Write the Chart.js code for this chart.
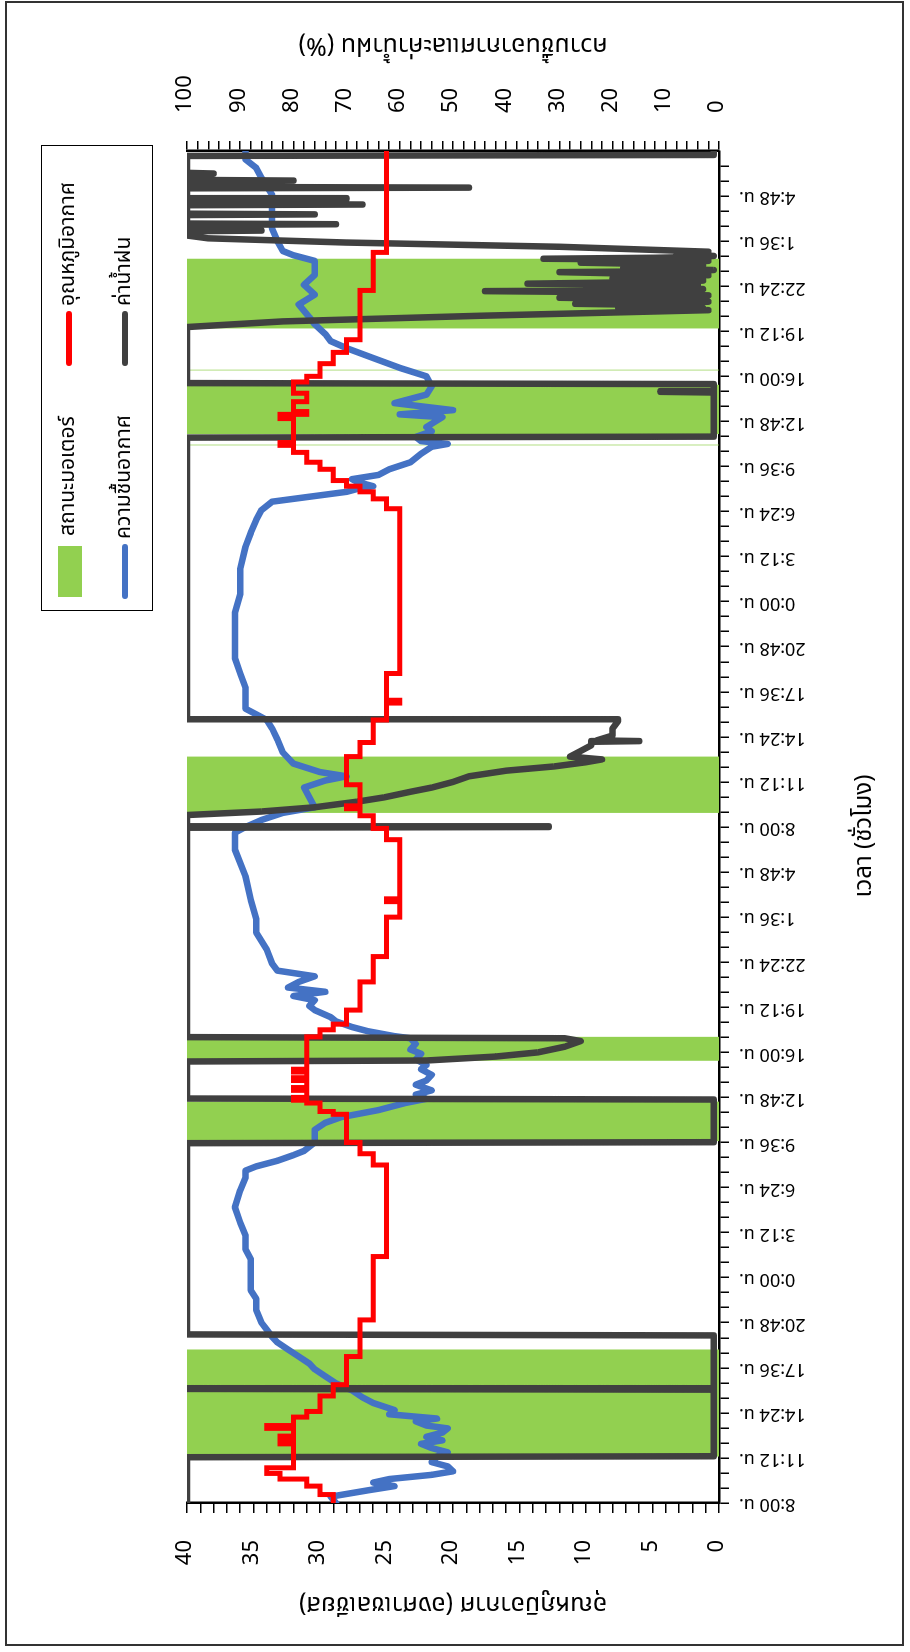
<!DOCTYPE html>
<html>
<head>
<meta charset="utf-8">
<script src="https://cdn.jsdelivr.net/npm/chart.js@4.4.1/dist/chart.umd.min.js"></script>
<style>
  html, body { margin:0; padding:0; width:910px; height:1652px; overflow:hidden; background:#fff; }
  #frame { position:absolute; left:5px; top:1px; width:899px; height:1645px; border:2px solid #333; box-sizing:border-box; }
  #wrap { position:absolute; left:0; top:0; width:1652px; height:910px; transform-origin:0 0; transform:translate(0,1652px) rotate(-90deg); }
  #c { position:absolute; left:0; top:0; }
  #legend { position:absolute; left:1041px; top:41px; width:466px; height:112px; border:1.5px solid #000; box-sizing:border-box; background:#fff;
            font-family:"Noto Sans Thai","Loma","Garuda","Waree","Noto Sans","DejaVu Sans",sans-serif; font-size:21px; color:#000; }
  #legend .sw { position:absolute; }
  #legend .tx { position:absolute; white-space:nowrap; line-height:28px; height:28px; }
</style>
</head>
<body>
<div id="frame"></div>
<div id="wrap">
  <canvas id="c" width="1652" height="910"></canvas>
  <div id="legend"></div>
</div>
<script>
// ---------- DATA ----------
const timeLabels = ["8:00 น.","11:12 น.","14:24 น.","17:36 น.","20:48 น.","0:00 น.","3:12 น.","6:24 น.","9:36 น.","12:48 น.","16:00 น.","19:12 น.","22:24 น.","1:36 น.","4:48 น.",
                    "8:00 น.","11:12 น.","14:24 น.","17:36 น.","20:48 น.","0:00 น.","3:12 น.","6:24 น.","9:36 น.","12:48 น.","16:00 น.","19:12 น.","22:24 น.","1:36 น.","4:48 น."];
const tempTickLabels = [0,5,10,15,20,25,30,35,40];
const humTickLabels = [0,10,20,30,40,50,60,70,80,90,100];

const seriesNames = ["สถานะมอเตอร์","อุณหภูมิอากาศ","ความชื้นอากาศ","ค่าน้ำฝน"];
const axisTitles = { temp:"อุณหภูมิอากาศ (องศาเซลเซียส)", hum:"ความชื้นอากาศและค่าน้ำฝน (%)", time:"เวลา (ชั่วโมง)" };

// [hours since first 8:00, temperature °C] (held until next point)
const temperature = [[0,29],[0.6,30],[1.2,31],[1.7,33],[2.1,34],[2.5,32],[4.2,33],[4.35,32],[4.6,33],[4.75,32],[5.3,34],[5.5,32],
  [6.1,31],[6.5,30],[7.6,29],[8.4,28],[10.4,27],[13.0,26],[17.5,25],[24.0,26],[24.8,27],[25.6,28],[27.6,29],[27.8,30],[28.4,31],
  [28.6,32],[28.8,31],[29.3,32],[29.5,31],[30.0,32],[30.2,31],[30.6,32],[30.8,31],[33.1,30],[33.6,29],[34.0,28],[35.0,27],[37.0,26],
  [38.8,25],[41.6,24],[42.7,25],[42.9,24],[47.1,25],[47.9,26],[48.8,27],[49.3,28],[49.5,27],[51.0,28],[53.0,27],[54.0,26],[55.6,25],
  [56.8,24],[57.0,25],[58.9,24],[70.6,25],[71.3,26],[71.8,27],[72.2,28],[72.6,29],[73.4,30],[73.9,31],[74.6,32],[75.1,33],[75.3,32],
  [77.0,33],[77.3,31],[77.5,32],[78.2,31],[78.8,32],[79.6,31],[80.0,30],[80.9,29],[81.7,28],[82.6,27],[86.1,26],[88.8,25],[96,25]];

// [hours, relative humidity %]
const humidity = [[0,72],[0.45,73],[0.9,66],[1.2,61],[1.45,65],[1.7,62],[2.0,54],[2.25,50],[2.6,51],[2.9,54],[3.3,53],[3.6,51],[3.9,54],
  [4.2,56],[4.45,52],[4.7,55],[5.0,52],[5.3,51],[5.5,55],[5.8,57],[6.0,53],[6.1,56],[6.3,62],[6.6,61],[7.1,65],[7.5,67],[8.0,69],
  [8.5,72],[9.0,74],[9.5,76],[9.9,77],[10.4,79],[10.9,81],[11.4,83],[11.8,84],[12.3,85],[12.8,86],[13.7,87],[14.5,87],[15.1,88],
  [16.5,88],[17.3,88],[18.0,89],[19.0,89],[19.9,90],[21.0,91],[22.2,90],[23.1,89],[23.6,89],[23.9,87],[24.3,83],[24.7,80],[25.0,78],
  [25.6,76],[26.5,76],[27.0,74],[27.4,71],[27.9,64],[28.4,59],[28.7,55],[29.0,57],[29.3,54],[29.7,57],[30.0,55],[30.4,54],[30.8,56],
  [31.1,55],[31.5,57],[31.9,56],[32.2,58],[32.6,57],[33.0,58],[33.15,61],[33.5,66],[33.8,69],[34.2,72],[34.5,73],[35.0,76],[35.3,77],
  [35.7,76],[36.0,80],[36.3,74],[36.6,81],[37.0,79],[37.4,76],[37.8,83],[38.3,84],[39.3,85],[40.5,87],[41.5,87],[42.8,88],[44.5,89],
  [46.4,91],[47.6,91],[48.0,89],[48.5,86],[49.0,82],[49.4,76],[50.1,77],[50.8,78],[51.3,74],[51.6,70],[51.9,75],[52.5,80],[53.3,82],
  [54.2,83],[55.0,84],[55.6,85],[56.0,87],[56.4,89],[57.9,89],[58.9,90],[60.0,91],[61.5,91],[63.2,91],[64.5,90],[66.3,90],[67.9,89],
  [68.9,88],[69.8,87],[70.5,86],[71.1,84],[71.4,78],[71.8,70],[72.0,68],[72.2,65],[72.5,68],[72.7,69],[73.0,64],[73.4,62],[73.9,58],
  [74.5,56],[75.0,54],[75.2,51],[75.4,56],[75.7,57],[76.1,54],[76.4,55],[77.1,52],[77.3,60],[77.6,50],[78.1,61],[78.7,55],[79.3,54],
  [80.0,55],[80.6,60],[81.3,65],[82.0,70],[82.5,73],[83.0,74],[83.7,76],[84.2,77],[85.1,79],[85.8,76],[86.5,78],[87.2,76],[88.2,76],
  [88.6,80],[88.9,82],[89.6,83],[90.5,84],[91.5,84],[92.9,84],[94.1,86],[94.8,87],[95.4,89],[96,89]];

// [hours, rain sensor value %]
const rain = [[0,100],[3.25,100],[3.32,1],[8.05,1],[8.1,100],[8.15,1],[11.9,1],[11.97,100],[25.55,100],[25.62,1],[28.65,1],[28.72,100],
  [31.35,100],[31.42,55],[31.7,42],[32.0,34],[32.4,29],[32.8,26],[33.0,29],[33.08,100],[47.95,100],[48.0,32],[48.05,100],[48.85,100],
  [49.1,86],[49.4,76],[49.8,68],[50.1,63],[50.5,58],[50.8,54],[51.2,50],[51.6,47],[52.0,40],[52.3,31],[52.6,25],[52.8,22],[53.0,28],
  [53.4,26],[53.8,24],[54.05,24],[54.1,15],[54.15,23],[54.5,20],[55.0,20],[55.5,19],[55.6,19],[55.65,100],[75.65,100],[75.72,1],
  [78.85,1],[78.9,11],[78.95,1],[79.45,1],[79.52,100],[83.5,100],[83.9,82],[84.3,45],[84.7,2],
  [84.78,8],[84.85,3],[84.92,19],[85.0,5],[85.08,14],[85.15,27],[85.22,6],[85.3,2],[85.38,12],[85.45,4],[85.52,20],[85.58,30],
  [85.65,10],[85.75,2],[85.82,15],[85.9,6],[85.98,22],[86.05,44],[86.12,8],[86.2,3],[86.28,18],[86.35,25],[86.42,9],[86.5,4],
  [86.58,36],[86.65,22],[86.72,7],[86.8,3],[86.88,11],[86.95,20],[87.02,5],[87.1,14],[87.18,2],[87.25,9],[87.32,20],[87.4,30],
  [87.47,6],[87.55,1],[87.62,12],[87.7,18],[87.78,4],[87.85,10],[87.92,3],[88.0,16],[88.07,26],[88.14,6],[88.2,2],[88.28,9],
  [88.35,33],[88.42,12],[88.48,4],[88.55,1],[88.62,7],[88.7,4],[88.78,8],[88.85,2],[89.2,30],
  [89.5,70],[89.8,96],[90.0,100],[90.3,100],[90.35,86],[90.4,100],[90.75,100],[90.8,72],[90.85,100],[91.45,100],[91.5,76],[91.55,100],
  [92.15,100],[92.2,67],[92.25,100],[92.55,100],[92.6,70],[92.65,100],[93.35,100],[93.4,47],[93.45,100],[93.85,100],[93.9,80],
  [93.95,100],[94.35,100],[94.4,95],[94.45,100],[95.65,100],[95.72,1],[96,1]];

// [hours, motor status (100 = on, 0 = off)] (held until next point)
const motor = [[0,0],[3.3,100],[10.9,0],[25.7,100],[28.5,0],[31.4,100],[33.1,0],[49.0,100],[53.0,0],[75.1,100],[75.15,0],
  [75.9,100],[79.4,0],[80.42,100],[80.47,0],[83.4,100],[88.35,0],[96,0]];

// ---------- STYLE ----------
const FONT = '"Noto Sans Thai","Loma","Garuda","Waree","Liberation Sans","Noto Sans","DejaVu Sans",sans-serif';
const colors = { motor:'#92D050', temp:'#FF0000', hum:'#4472C4', rain:'#404040' };
const HOURS_PER_LABEL = 3.2, MINOR_PER_LABEL = 3, SPAN = 96;

const toXY = arr => arr.map(p => ({x:p[0], y:p[1]}));

const titlePlugin = {
  id:'axisTitles',
  afterDraw(chart){
    const {ctx, chartArea:a} = chart;
    ctx.save();
    ctx.fillStyle = '#000';
    ctx.font = '25px ' + FONT;
    ctx.textAlign = 'center'; ctx.textBaseline = 'middle';
    const cy = (a.top + a.bottom)/2;
    ctx.save(); ctx.translate(50, cy); ctx.rotate(-Math.PI/2); ctx.fillText(axisTitles.temp, 0, 0); ctx.restore();
    ctx.save(); ctx.translate(1609, cy); ctx.rotate(-Math.PI/2); ctx.fillText(axisTitles.hum, 0, 0); ctx.restore();
    ctx.font = '24px ' + FONT;
    ctx.fillText(axisTitles.time, (a.left + a.right)/2 - 9, 866);
    ctx.restore();
  }
};

const gridOpts = { display:true, drawOnChartArea:false, drawTicks:true, tickLength:10, color:'#000', lineWidth:1.5 };
const borderOpts = { display:true, color:'#000', width:2.5 };

new Chart(document.getElementById('c'), {
  type:'line',
  data:{
    datasets:[
      { label:seriesNames[1], data:toXY(temperature), yAxisID:'y', borderColor:colors.temp, borderWidth:5, stepped:true,
        pointRadius:0, fill:false, order:0, borderJoinStyle:'miter' },
      { label:seriesNames[3], data:toXY(rain), yAxisID:'y2', borderColor:colors.rain, borderWidth:6.5,
        pointRadius:0, fill:false, order:1, borderJoinStyle:'round', borderCapStyle:'round' },
      { label:seriesNames[2], data:toXY(humidity), yAxisID:'y2', borderColor:colors.hum, borderWidth:6.5,
        pointRadius:0, fill:false, order:2, borderJoinStyle:'round', borderCapStyle:'round' },
      { label:seriesNames[0], data:toXY(motor), yAxisID:'y2', borderColor:colors.motor, backgroundColor:colors.motor, borderWidth:0,
        stepped:true, pointRadius:0, fill:'origin', order:3 }
    ]
  },
  options:{
    responsive:false, animation:false, devicePixelRatio:1,
    layout:{ padding:{ top:187, left:0, right:0, bottom:0 } },
    plugins:{ legend:{display:false}, tooltip:{enabled:false} },
    scales:{
      x:{ type:'linear', position:'bottom', min:0, max:SPAN,
          grid:gridOpts, border:borderOpts,
          afterBuildTicks(s){ const n = SPAN/HOURS_PER_LABEL*MINOR_PER_LABEL; const t=[]; for(let i=0;i<n;i++) t.push({value:i*SPAN/n}); s.ticks=t; },
          afterFit(s){ s.height = 910 - 719; },
          ticks:{ autoSkip:false, minRotation:90, maxRotation:90, padding:10, color:'#000', font:{size:18, family:FONT},
                  callback:(v,i)=> i % MINOR_PER_LABEL === 0 ? timeLabels[i/MINOR_PER_LABEL] : '' } },
      y:{ type:'linear', position:'left', min:0, max:40,
          grid:gridOpts, border:borderOpts,
          afterBuildTicks(s){ const t=[]; for(let v=0; v<=40; v++) t.push({value:v}); s.ticks=t; },
          afterFit(s){ s.width = 149; },
          ticks:{ autoSkip:false, padding:27, color:'#000', font:{size:22, family:FONT},
                  callback:v=> tempTickLabels.includes(v) ? String(v) : '' } },
      y2:{ type:'linear', position:'right', min:0, max:100,
          grid:gridOpts, border:borderOpts,
          afterBuildTicks(s){ const t=[]; for(let v=0; v<=100; v+=2) t.push({value:v}); s.ticks=t; },
          afterFit(s){ s.width = 1652 - 1501; },
          ticks:{ autoSkip:false, padding:28, color:'#000', font:{size:22, family:FONT},
                  callback:v=> humTickLabels.includes(v) ? String(v) : '' } }
    }
  },
  plugins:[titlePlugin]
});

// ---------- LEGEND (HTML) ----------
const lg = document.getElementById('legend');
const items = [
  { name:seriesNames[0], color:colors.motor, box:true,  sx:13,  sy:16, tx:74,  ty:12 },
  { name:seriesNames[1], color:colors.temp,  box:false, sx:244, sy:24, tx:304, ty:12 },
  { name:seriesNames[2], color:colors.hum,   box:false, sx:11,  sy:80, tx:71,  ty:68 },
  { name:seriesNames[3], color:colors.rain,  box:false, sx:244, sy:80, tx:304, ty:68 }
];
items.forEach(it=>{
  const s = document.createElement('div'); s.className='sw';
  if (it.box) { Object.assign(s.style,{left:it.sx+'px',top:it.sy+'px',width:'51px',height:'24px',background:it.color}); }
  else { Object.assign(s.style,{left:it.sx+'px',top:it.sy+'px',width:'55px',height:'6px',background:it.color,borderRadius:'3px'}); }
  lg.appendChild(s);
  const t = document.createElement('div'); t.className='tx'; t.textContent = it.name;
  Object.assign(t.style,{left:it.tx+'px',top:it.ty+'px'});
  lg.appendChild(t);
});
</script>
</body>
</html>
